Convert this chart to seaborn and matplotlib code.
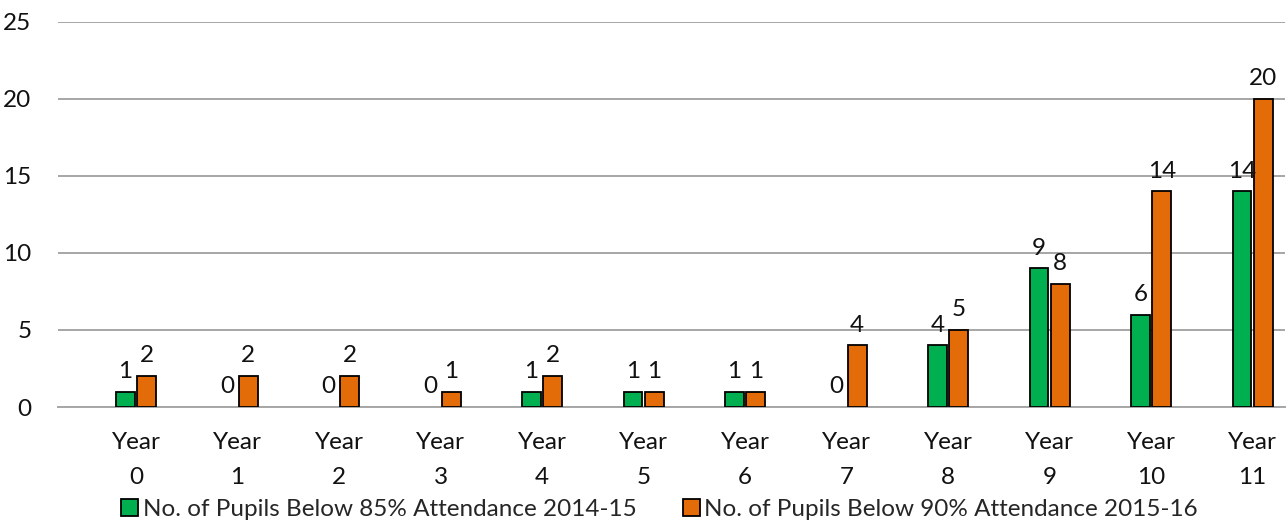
import matplotlib
matplotlib.use("Agg")
import matplotlib.pyplot as plt
import seaborn as sns
import pandas as pd
from matplotlib.patches import Patch

categories = [f"Year\n{i}" for i in range(12)]
series_names = ["No. of Pupils Below 85% Attendance 2014-15",
                "No. of Pupils Below 90% Attendance 2015-16"]
values_85 = [1, 0, 0, 0, 1, 1, 1, 0, 4, 9, 6, 14]
values_90 = [2, 2, 2, 1, 2, 1, 1, 4, 5, 8, 14, 20]
colors = ["#00B050", "#E36C09"]

df = pd.DataFrame({
    "Year": categories * 2,
    "Value": values_85 + values_90,
    "Series": [series_names[0]] * 12 + [series_names[1]] * 12,
})

sns.set_theme(style="white")
plt.rcParams['font.family'] = ['Lato', 'DejaVu Sans']
FS = 17.5

fig = plt.figure(figsize=(12.88, 5.22), dpi=100)
ax = fig.add_axes([0.045, 0.2203, 0.9527, 0.7377])

sns.barplot(data=df, x="Year", y="Value", hue="Series", palette=colors,
            saturation=1, width=0.42, gap=0.12, edgecolor="black", linewidth=1.3,
            ax=ax, legend=False, zorder=3)

for cont in ax.containers:
    for p in cont.patches:
        if p.get_height() == 0:
            p.set_linewidth(0)
    ax.bar_label(cont, padding=7, fontsize=FS, color="#111111")

ax.set_ylim(0, 25)
ax.set_yticks([0, 5, 10, 15, 20, 25])
ax.set_xlim(-0.77, 11.32)
ax.grid(axis="y", color="#A6A6A6", linewidth=1.4, zorder=0)
for s in ["top", "right", "left"]:
    ax.spines[s].set_visible(False)
ax.spines["bottom"].set_color("#A6A6A6")
ax.spines["bottom"].set_linewidth(1.4)
ax.set_xlabel("")
ax.set_ylabel("")
ax.tick_params(axis="both", length=0, labelsize=FS, colors="#111111")
ax.tick_params(axis="x", pad=18)
for lab in ax.get_xticklabels():
    lab.set_linespacing(1.8)
ax.tick_params(axis="y", pad=19)

handles = [Patch(facecolor=c, edgecolor="black", linewidth=1.3) for c in colors]
fig.legend(handles, series_names, loc="lower center", bbox_to_anchor=(0.512, -0.038),
           ncol=2, frameon=False, fontsize=FS, handlelength=0.7, handleheight=0.7,
           handletextpad=0.2, columnspacing=1.9)

fig.savefig("out.png", dpi=100)
